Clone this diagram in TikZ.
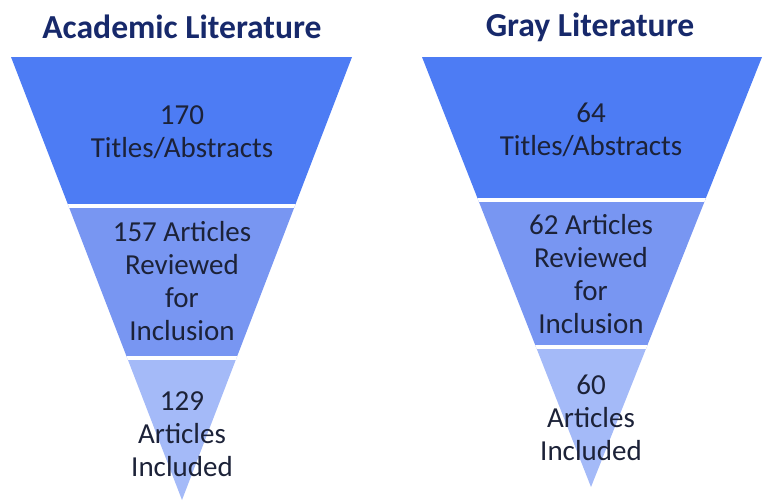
\documentclass[tikz,border=0pt]{standalone}
\usepackage{fontspec}
\setmainfont{Carlito}

\definecolor{bandtop}{HTML}{4D7CF4}
\definecolor{bandmid}{HTML}{7896F2}
\definecolor{bandlow}{HTML}{A4BAF8}
\definecolor{headblue}{HTML}{17296B}
\definecolor{textdark}{HTML}{1C2238}

\tikzset{
  heading/.style={font=\bfseries\fontsize{16.8}{20}\selectfont, text=headblue},
  bandtext/.style={align=center, font=\fontsize{14.5}{16.5}\selectfont, text=textdark},
  gap/.style={white, line width=2pt}
}

\begin{document}
\begin{tikzpicture}[x=0.5pt, y=-0.5pt]
\useasboundingbox (0,0) rectangle (765,502);

%%%%%%%%%%%% Academic Literature
  \begin{scope}
    \clip (11,57) -- (352,57) -- (182,500) -- cycle;
    \fill[bandtop] (0,57) rectangle (400,206);
    \fill[bandmid] (0,206) rectangle (400,358);
    \fill[bandlow] (0,358) rectangle (400,502);
    \foreach \y in {206,358}
      \draw[gap] (0,\y) -- +(400,0);
  \end{scope}
  \node[heading] (acadhead) at (182,27) {Academic Literature};
  \node[bandtext] (acadtop) at (182,132) {170\\Titles/Abstracts};
  \node[bandtext] (acadmid) at (182,281) {157 Articles\\Reviewed\\for\\Inclusion};
  \node[bandtext] (acadlow) at (182,434) {129\\Articles\\Included};

%%%%%%%%%%%% Gray Literature
  \begin{scope}
    \clip (422,57) -- (762,57) -- (591,487) -- cycle;
    \fill[bandtop] (400,57) rectangle (765,200);
    \fill[bandmid] (400,200) rectangle (765,347);
    \fill[bandlow] (400,347) rectangle (765,502);
    \foreach \y in {200,347}
      \draw[gap] (400,\y) -- +(365,0);
  \end{scope}
  \node[heading] (grayhead) at (590,27) {Gray Literature};
  \node[bandtext] (graytop) at (591,130) {64\\Titles/Abstracts};
  \node[bandtext] (graymid) at (591,274) {62 Articles\\Reviewed\\for\\Inclusion};
  \node[bandtext] (graylow) at (591,418) {60\\Articles\\Included};
\end{tikzpicture}
\end{document}
